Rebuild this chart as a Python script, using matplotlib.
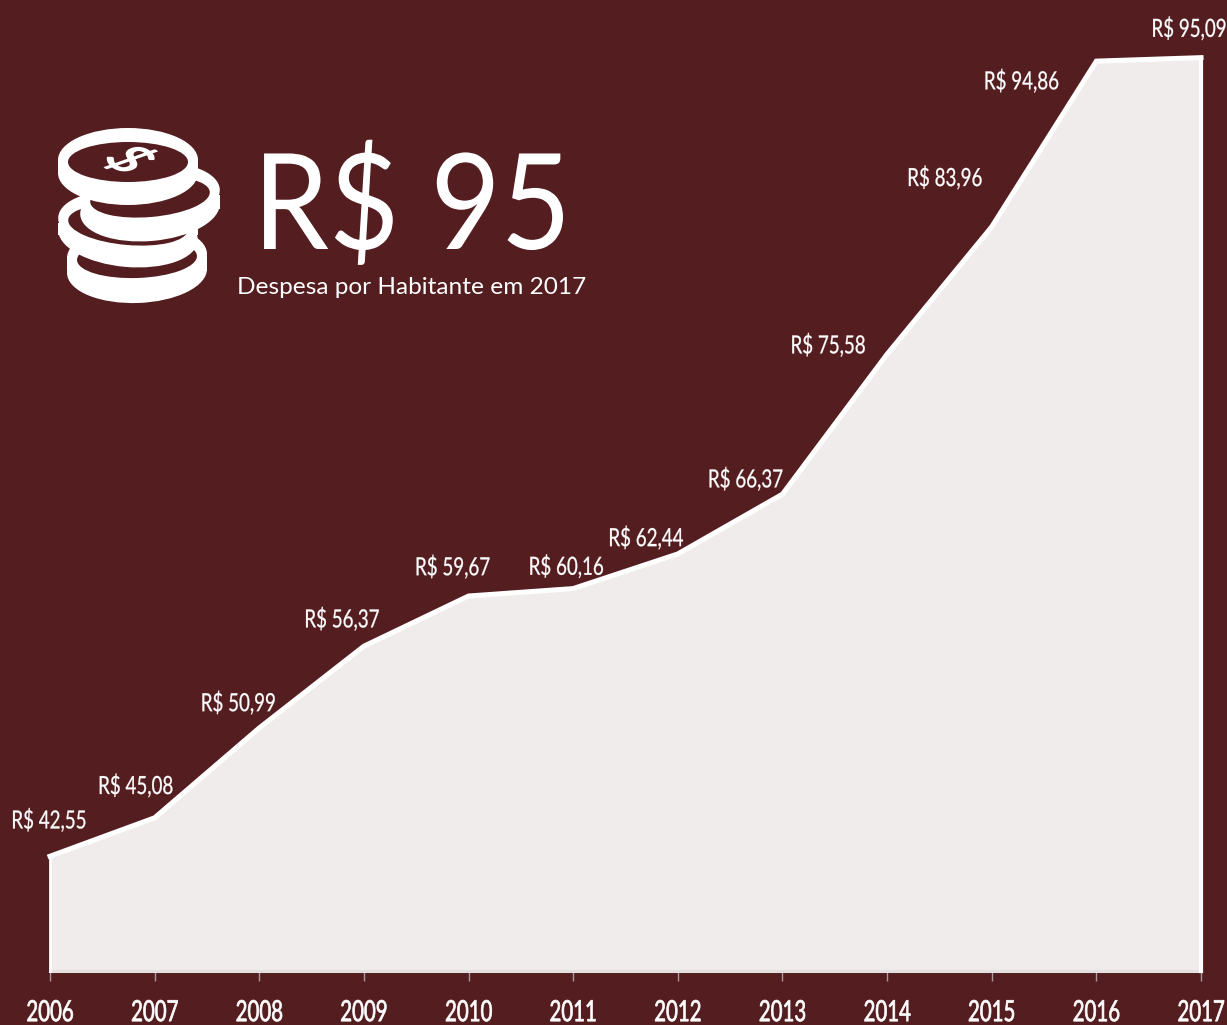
import matplotlib
matplotlib.use("Agg")
import matplotlib.pyplot as plt
from matplotlib.patches import Ellipse, Rectangle
from matplotlib.patheffects import AbstractPathEffect
from matplotlib.transforms import Affine2D

# data
years = [2006, 2007, 2008, 2009, 2010, 2011, 2012, 2013, 2014, 2015, 2016, 2017]
despesa = [42.55, 45.08, 50.99, 56.37, 59.67, 60.16, 62.44, 66.37, 75.58, 83.96, 94.86, 95.09]
rotulos = ["R$ 42,55", "R$ 45,08", "R$ 50,99", "R$ 56,37", "R$ 59,67", "R$ 60,16",
           "R$ 62,44", "R$ 66,37", "R$ 75,58", "R$ 83,96", "R$ 94,86", "R$ 95,09"]

# label offsets from each point, in pixels
offsets = [(-1, 36), (-19, 32), (-21, 25), (-22, 27), (-16, 29), (-7, 22),
           (-32, 16), (-37, 15), (-59, 9), (-47, 49), (-75, -20), (-12, 29)]

BG = "#541d20"
FILL = "#f1ecec"
W = 1227
H = 1025


class Squeeze(AbstractPathEffect):
    # no condensed font installed, so narrow the glyphs of a normal text
    def __init__(self, sx=1.0, stroke=0.0):
        super().__init__()
        self.sx = sx
        self.stroke = stroke

    def draw_path(self, renderer, gc, tpath, affine, rgbFace=None):
        box = tpath.get_extents()
        c = (box.x0 + box.x1) / 2
        t = Affine2D().translate(-c, 0).scale(self.sx, 1).translate(c, 0) + affine
        gc0 = renderer.new_gc()
        gc0.copy_properties(gc)
        gc0.set_linewidth(self.stroke)
        gc0.set_foreground(rgbFace)
        renderer.draw_path(gc0, tpath, t, rgbFace)
        gc0.restore()


class Flatten(AbstractPathEffect):
    # squash in screen space, for the dollar lying on the top coin
    def __init__(self, sy, cy):
        super().__init__()
        self.sy = sy
        self.cy = cy

    def draw_path(self, renderer, gc, tpath, affine, rgbFace=None):
        t = affine + Affine2D().translate(0, -self.cy).scale(1, self.sy).translate(0, self.cy)
        renderer.draw_path(gc, tpath, t, rgbFace)


fig = plt.figure(figsize=(W / 100, H / 100), dpi=100, facecolor=BG)

# main chart, axes reach the top of the figure
ax = fig.add_axes([50 / W, (H - 971) / H, (1201 - 50) / W, 971 / H])
ax.set_facecolor(BG)
ax.set_xlim(2006, 2017)
ax.set_ylim(35, 35 + 971 / 15.2)

ax.fill_between(years, despesa, 35, color=FILL, linewidth=0, zorder=2)
ax.plot(years, despesa, color="white", linewidth=3.6, solid_joinstyle="miter", zorder=3, clip_on=False)
ax.plot([2006, 2006], [35, despesa[0]], color="white", linewidth=2, zorder=3, clip_on=False)
ax.plot([2017, 2017], [35, despesa[-1]], color="white", linewidth=3, zorder=3, clip_on=False)

for s in ["top", "left", "right"]:
    ax.spines[s].set_visible(False)
ax.spines["bottom"].set_color("#e4e0e0")
ax.spines["bottom"].set_linewidth(2.2)
ax.set_yticks([])
ax.set_xticks(years)
ax.set_xticklabels(years, family="Lato", fontsize=21, color="white",
                   path_effects=[Squeeze(0.7, 0.5)])
ax.tick_params(axis="x", length=7, width=1, color="#a89a9a", pad=14)

for i in range(len(years)):
    ax.annotate(rotulos[i], (years[i], despesa[i]), xytext=offsets[i], textcoords="offset pixels",
                ha="center", va="center", color="white", fontsize=18, family="Lato",
                annotation_clip=False, zorder=5, path_effects=[Squeeze(0.75, 0.2)])

# headline
fig.text(412 / W, 1 - 209 / H, "R$ 95", color="white", fontsize=96, family="Lato",
         ha="center", va="center", path_effects=[Squeeze(0.91)])
fig.text(412 / W, 1 - 287 / H, "Despesa por Habitante em 2017", color="white", fontsize=17.6,
         family="Lato", ha="center", va="center")

# coin icon on an overlay in pixel coordinates
ic = fig.add_axes([0, 0, 1, 1])
ic.set_xlim(0, W)
ic.set_ylim(H, 0)
ic.axis("off")
ic.patch.set_alpha(0)


def coin(cx, cy, thick, angle, z):
    ic.add_patch(Ellipse((cx, cy + thick), 140, 64, angle=angle, color="white", lw=0, zorder=z))
    ic.add_patch(Rectangle((cx - 70, cy), 140, thick, color="white", lw=0, zorder=z))
    ic.add_patch(Ellipse((cx, cy), 140, 64, angle=angle, color="white", lw=0, zorder=z))
    ic.add_patch(Ellipse((cx, cy + 2), 120, 40, angle=angle, color=BG, lw=0, zorder=z + 0.1))


coin(137, 256, 15, -2, 1)
coin(128, 223, 12, 5, 2)
coin(150, 195, 14, -5, 3)
coin(128, 160, 13, 0, 4)
ic.text(128, 160, "$", color="white", fontsize=46, fontweight="bold", family="Lato",
        rotation=-55, ha="center", va="center", zorder=5,
        path_effects=[Flatten(0.6, H - 160)])

fig.savefig("out.png", dpi=100, facecolor=BG)
